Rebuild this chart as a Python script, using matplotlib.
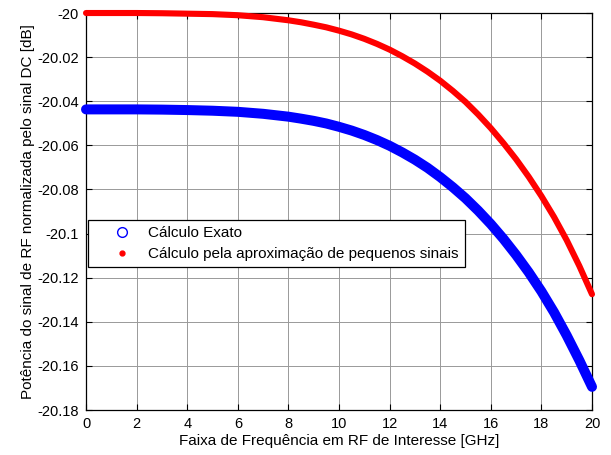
import matplotlib
matplotlib.use("Agg")
import matplotlib.pyplot as plt
from matplotlib.lines import Line2D

plt.rcParams['font.family'] = ['Liberation Sans', 'DejaVu Sans']
plt.rcParams['axes.unicode_minus'] = False

# frequency in GHz
freq = [0, 1, 2, 3, 4, 5, 6, 7, 8, 8.5, 9, 9.5, 10, 10.5, 11, 11.5, 12, 12.5,
        13, 13.5, 14, 14.5, 15, 15.5, 16, 16.5, 17, 17.5, 18, 18.5, 19, 19.5, 20]
# exact calculation (dB)
exato = [-20.0437, -20.0437, -20.0437, -20.0438, -20.0440, -20.0443, -20.0448,
         -20.0457, -20.0470, -20.0479, -20.0489, -20.0501, -20.0516, -20.0533,
         -20.0553, -20.0576, -20.0602, -20.0632, -20.0665, -20.0702, -20.0744,
         -20.0790, -20.0840, -20.0896, -20.0957, -20.1024, -20.1097, -20.1176,
         -20.1262, -20.1357, -20.1462, -20.1575, -20.1695]
# small-signal approximation (dB)
aprox = [-20.0000, -20.0000, -20.0000, -20.0001, -20.0003, -20.0005, -20.0010,
         -20.0019, -20.0033, -20.0042, -20.0053, -20.0065, -20.0080, -20.0097,
         -20.0117, -20.0140, -20.0166, -20.0196, -20.0229, -20.0266, -20.0307,
         -20.0353, -20.0403, -20.0460, -20.0522, -20.0590, -20.0663, -20.0743,
         -20.0830, -20.0925, -20.1030, -20.1147, -20.1275]

xticks = [0, 2, 4, 6, 8, 10, 12, 14, 16, 18, 20]
yticks = [-20, -20.02, -20.04, -20.06, -20.08, -20.1, -20.12, -20.14, -20.16, -20.18]
ylabels = ["-20", "-20.02", "-20.04", "-20.06", "-20.08", "-20.1", "-20.12",
           "-20.14", "-20.16", "-20.18"]

fig = plt.figure(figsize=(6.11, 4.55), dpi=100)
ax = fig.add_axes([0.1408, 0.0989, 0.8281, 0.8725])

ax.plot(freq, exato, color="#0000ff", lw=7.2, solid_capstyle="round",
        solid_joinstyle="round", clip_on=False, zorder=3)
ax.plot(freq, aprox, color="#ff0000", lw=4.4, solid_capstyle="round",
        solid_joinstyle="round", clip_on=False, zorder=4)

ax.set_xlim(0, 20)
ax.set_ylim(-20.18, -20)
ax.set_xticks(xticks)
ax.set_xticklabels([str(t) for t in xticks])
ax.set_yticks(yticks)
ax.set_yticklabels(ylabels)
ax.tick_params(direction="in", top=True, right=True, labelsize=10.5, length=4,
               width=0.8, pad=5)
ax.grid(True, color="0.6", lw=0.7, ls="-")
ax.set_axisbelow(True)
for s in ax.spines.values():
    s.set_linewidth(0.9)

ax.set_xlabel("Faixa de Frequência em RF de Interesse [GHz]", fontsize=11, labelpad=2)
ax.set_ylabel("Potência do sinal de RF normalizada pelo sinal DC [dB]", fontsize=11,
              labelpad=2)

handles = [
    Line2D([], [], ls="none", marker="o", mfc="none", mec="#0000ff", ms=7, mew=1),
    Line2D([], [], ls="none", marker=".", color="#ff0000", ms=7),
]
leg = ax.legend(handles, ["Cálculo Exato", "Cálculo pela aproximação de pequenos sinais"],
                loc="upper left", bbox_to_anchor=(0.0045, 0.4786), borderaxespad=0,
                fancybox=False, framealpha=1, edgecolor="black", fontsize=11,
                handlelength=3.6, handletextpad=-0.1, borderpad=0.4,
                labelspacing=0.45)
leg.get_frame().set_linewidth(0.9)
leg.set_zorder(5)

fig.savefig("out.png", dpi=100)
